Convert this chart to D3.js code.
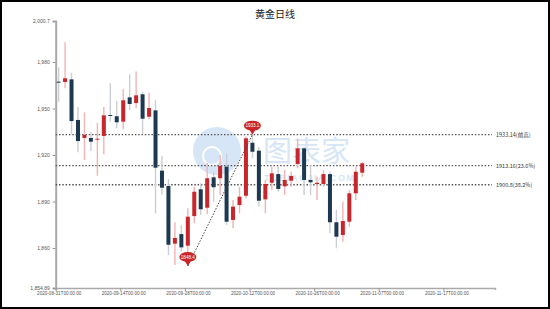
<!DOCTYPE html>
<html>
<head>
<meta charset="utf-8">
<script src="https://cdn.jsdelivr.net/npm/d3@7"></script>
<style>
  body { margin: 0; background: #fff; }
  text { font-family: "Liberation Sans", sans-serif; }
</style>
</head>
<body>
<div id="chart"></div>
<script>
// daily candles, index 0 = 2020-08-31
var opens  = [1967.3,1967.1,1968.8,1942.6,1931.0,1931.0,1930.0,1932.3,1945.8,1945.0,1941.5,1957.2,1953.5,1959.2,1944.7,1948.8,1909.9,1900.0,1862.8,1869.0,1861.5,1880.6,1897.9,1886.0,1905.6,1905.0,1912.5,1878.1,1887.7,1893.7,1927.9,1922.8,1891.4,1902.1,1907.7,1899.8,1903.4,1914.2,1924.3,1903.9,1901.3,1901.3,1907.7,1876.6,1868.4,1877.0,1895.3,1908.6];
var highs  = [1976.6,1992.7,1973.1,1951.0,1947.5,1935.0,1940.8,1951.0,1966.3,1954.8,1962.6,1972.1,1973.8,1960.8,1960.2,1955.5,1919.5,1904.5,1876.6,1874.8,1885.6,1899.5,1901.7,1915.0,1909.2,1920.0,1921.1,1891.0,1899.5,1932.0,1933.14,1925.4,1903.9,1912.5,1912.5,1910.3,1909.2,1930.8,1925.4,1913.5,1906.0,1910.3,1909.2,1884.5,1889.9,1897.4,1912.5,1915.7];
var lows   = [1954.4,1963.0,1933.4,1921.7,1916.8,1922.6,1906.6,1920.5,1941.5,1937.2,1936.6,1949.0,1950.1,1933.4,1943.2,1882.4,1894.6,1855.5,1849.0,1857.6,1848.4,1875.9,1881.3,1882.0,1889.9,1894.2,1874.8,1872.7,1882.4,1892.0,1917.9,1886.7,1882.4,1897.4,1896.3,1894.2,1899.5,1911.4,1894.2,1894.2,1891.0,1899.5,1869.5,1859.8,1864.1,1873.7,1891.0,1906.0];
var closes = [1966.7,1969.5,1941.9,1929.0,1932.9,1928.6,1930.5,1945.6,1945.2,1941.1,1955.3,1952.9,1958.5,1943.4,1950.3,1911.8,1898.9,1862.1,1866.5,1860.4,1880.2,1896.3,1885.0,1905.0,1899.2,1912.9,1877.0,1886.7,1893.1,1930.8,1922.1,1890.5,1901.3,1908.2,1898.1,1903.9,1906.5,1924.3,1903.9,1902.4,1902.1,1907.7,1876.6,1867.3,1877.4,1895.3,1909.2,1914.6];

// x axis ticks every 10 trading days
var xTickIndex  = [0, 10, 20, 30, 40, 50, 60];
var xTickLabels = ["2020-08-31T00:00:00","2020-09-14T00:00:00","2020-09-28T00:00:00","2020-10-12T00:00:00","2020-10-26T00:00:00","2020-11-07T00:00:00","2020-11-17T00:00:00"];

// y axis
var yTicks = [1860, 1890, 1920, 1950, 1980];
var yDomain = [1834.2, 2006.45];
var yEndLabels = ["1,854.89", "2,000.7"];

// fib levels
var levelValues = [1933.14, 1913.16, 1900.8];
var levelLabels = ["1933.14(前高)", "1913.16(23.6%)", "1900.8(38.2%)"];

// swing markers
var lowIndex = 20, lowValue = 1848.4, lowText = "1848.4";
var highIndex = 30, highValue = 1933.14, highText = "1933.1";

var W = 550, H = 309;
var margin = {top: 21, right: 55, bottom: 21, left: 55.7};

var svg = d3.select("#chart")
.append("svg")
  .attr("width", W)
  .attr("height", H);

var x = d3.scaleLinear()
  .domain([0, 68])
  .range([margin.left, W - margin.right]);
var step = x(1) - x(0);

var y = d3.scaleLinear()
  .domain(yDomain)
  .range([H - margin.bottom, margin.top]);

// title
svg.append("text")
  .attr("x", 275).attr("y", 18)
  .attr("text-anchor", "middle")
  .style("font-size", "10px")
  .style("font-family", "'Noto Sans CJK SC', sans-serif")
  .style("fill", "#222")
  .text("黄金日线");

// watermark
var wm = svg.append("g").style("opacity", 0.75);
wm.append("circle")
  .attr("cx", 217).attr("cy", 151).attr("r", 24)
  .style("fill", "#c9def5");
wm.append("circle")
  .attr("cx", 212).attr("cy", 156).attr("r", 9)
  .style("fill", "none").style("stroke", "#fff").style("stroke-width", 2);
wm.append("text")
  .attr("x", 263).attr("y", 162)
  .style("font-size", "29px")
  .style("font-family", "'Noto Sans CJK SC', sans-serif")
  .style("fill", "#c9def5")
  .text("图表家");
wm.append("text")
  .attr("x", 264).attr("y", 181)
  .style("font-size", "9px")
  .style("font-weight", "bold")
  .style("letter-spacing", "1.5px")
  .style("fill", "#c9def5")
  .text("TUBIAOJIA.COM");

// axes
var yAxis = svg.append("g")
  .attr("transform", "translate(" + margin.left + ",0)")
  .call(d3.axisLeft(y)
    .tickValues(yDomain.concat(yTicks))
    .tickSize(3)
    .tickFormat(function(d) {
      if (d === yDomain[0]) return yEndLabels[0];
      if (d === yDomain[1]) return yEndLabels[1];
      return d3.format(",")(d);
    }));
yAxis.select(".domain").style("stroke", "#aaa").style("stroke-width", 2);
yAxis.selectAll(".tick line").style("stroke", "#999");
yAxis.selectAll("text").style("font-size", "5px").style("fill", "#555");

var xAxis = svg.append("g")
  .attr("transform", "translate(0," + (H - margin.bottom) + ")")
  .call(d3.axisBottom(x)
    .tickValues(xTickIndex)
    .tickSize(3)
    .tickSizeOuter(2)
    .tickFormat(function(d, i) { return xTickLabels[i]; }));
xAxis.select(".domain").style("stroke", "#aaa").style("stroke-width", 1.5);
xAxis.selectAll(".tick line").style("stroke", "#999");
xAxis.selectAll("text")
  .attr("dx", 3).attr("y", 4)
  .style("font-size", "4.6px").style("fill", "#555");

// fib lines
levelValues.forEach(function(v, i) {
  svg.append("line")
    .attr("x1", margin.left).attr("x2", 492)
    .attr("y1", y(v)).attr("y2", y(v))
    .style("stroke", "#555")
    .style("stroke-width", 1.3)
    .style("stroke-dasharray", "1.5,1.8");
  svg.append("text")
    .attr("x", 496).attr("y", y(v) + 2)
    .style("font-size", "5.5px")
    .style("font-family", "'Noto Sans CJK SC', sans-serif")
    .style("fill", "#333")
    .text(levelLabels[i]);
});

// candles
var idx = d3.range(opens.length);
var cx = function(i) { return x(i) + step * 0.45; };
var up = function(i) { return closes[i] >= opens[i]; };

svg.selectAll(".wick")
  .data(idx)
  .enter()
  .append("line")
    .attr("x1", cx).attr("x2", cx)
    .attr("y1", function(i) { return y(highs[i]); })
    .attr("y2", function(i) { return y(lows[i]); })
    .style("stroke", function(i) { return up(i) ? "#f1b3b3" : "#c9cfd5"; })
    .style("stroke-width", 1.4);

svg.selectAll(".body")
  .data(idx)
  .enter()
  .append("rect")
    .attr("x", function(i) { return cx(i) - 2; })
    .attr("y", function(i) { return y(Math.max(opens[i], closes[i])); })
    .attr("width", 4)
    .attr("height", function(i) { return Math.max(1, Math.abs(y(opens[i]) - y(closes[i]))); })
    .style("fill", function(i) { return up(i) ? "#c8262b" : "#1d3851"; });

// swing line
svg.append("line")
  .attr("x1", cx(lowIndex)).attr("y1", y(lowValue))
  .attr("x2", cx(highIndex)).attr("y2", y(highValue))
  .style("stroke", "#444")
  .style("stroke-width", 1)
  .style("stroke-dasharray", "1.5,1.5");

// pin markers
function pin(i, v, label) {
  var px = cx(i), py = y(v);
  var g = svg.append("g");
  g.append("path")
    .attr("d", "M" + (px - 3) + "," + (py - 5) + "L" + px + "," + py + "L" + (px + 3) + "," + (py - 5) + "Z")
    .style("fill", "#c8262b");
  g.append("ellipse")
    .attr("cx", px).attr("cy", py - 9)
    .attr("rx", 8.5).attr("ry", 5)
    .style("fill", "#c8262b");
  g.append("text")
    .attr("x", px).attr("y", py - 7.3)
    .attr("text-anchor", "middle")
    .style("font-size", "4.6px")
    .style("fill", "#fff")
    .text(label);
}
pin(lowIndex, lowValue, lowText);
pin(highIndex, highValue, highText);

// frame
svg.append("rect")
  .attr("x", 1).attr("y", 1)
  .attr("width", W - 2).attr("height", H - 2)
  .style("fill", "none")
  .style("stroke", "#000")
  .style("stroke-width", 2);
</script>
</body>
</html>
